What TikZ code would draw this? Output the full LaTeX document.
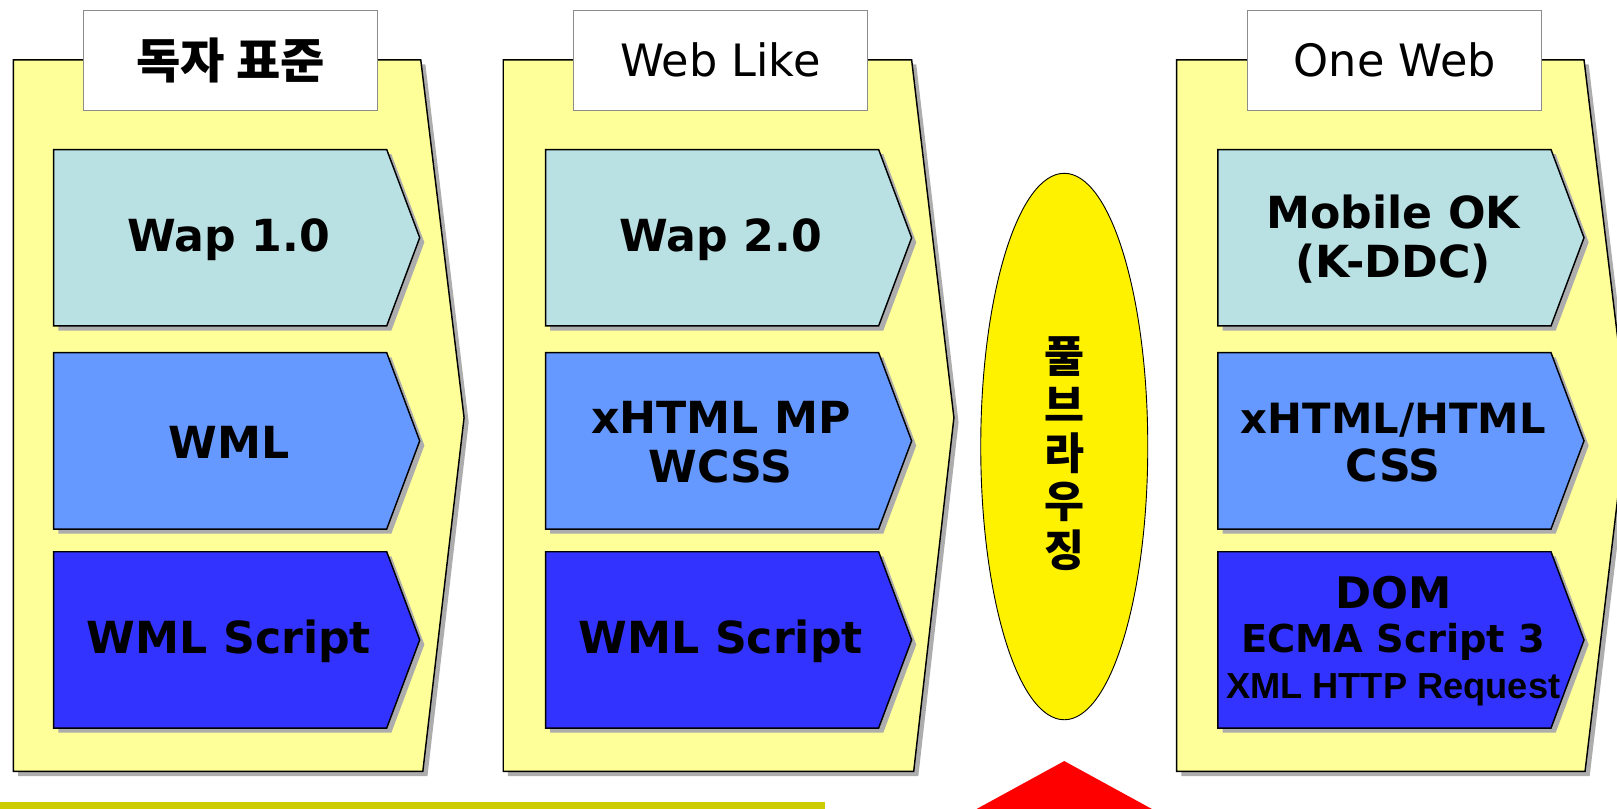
\documentclass[tikz,border=0pt]{standalone}
\usepackage{fontspec}
\setmainfont{DejaVu Sans}
\newfontfamily\kr{Noto Sans CJK KR}
\newfontfamily\arialfont{Liberation Sans}
\usetikzlibrary{shapes.geometric,shadows}

\definecolor{panelyellow}{HTML}{FFFF99}
\definecolor{paleblue}{HTML}{B9E0E3}
\definecolor{midblue}{HTML}{6699FF}
\definecolor{deepblue}{HTML}{3333FF}
\definecolor{barolive}{HTML}{CCCC00}

\tikzset{
  shadowed/.style={drop shadow={shadow xshift=0.09cm, shadow yshift=-0.09cm, opacity=1, fill=black!32}},
  panel/.style={draw=black, line width=0.8pt, fill=panelyellow, shadowed},
  chev/.style={draw=black, line width=0.8pt, shadowed},
  headbox/.style={draw=black!45, fill=white, line width=0.6pt, minimum width=5.7cm, minimum height=1.94cm},
  lbl/.style={font=\bfseries\fontsize{24.4}{26.8}\selectfont, align=center},
}

% chevron: name, left x, top y, fill, label
\newcommand{\chevron}[5]{%
  \path[chev, fill=#4] (#2,#3) -- ++(323,0) -- ++(32,85.5) -- ++(-32,85.5) -- ++(-323,0) -- cycle;
  \node[lbl] (#1) at ([shift={(170,87)}]#2,#3) {#5};
}

\begin{document}
\begin{tikzpicture}[x=0.02cm, y=-0.02cm]
\useasboundingbox (0,0) rectangle (1568,784);
\clip (0,0) rectangle (1568,784);

% three panels
\path[panel] (13,58) -- (408,58) -- (450,405) -- (410,748) -- (13,748) -- cycle;
\path[panel] (488,58) -- (884,58) -- (925,405) -- (886,748) -- (488,748) -- cycle;
\path[panel] (1141,58) -- (1536,58) -- (1578,405) -- (1537,748) -- (1141,748) -- cycle;

\node[headbox, font=\kr\bfseries\fontsize{26.6}{30}\selectfont] (hdown) at (223.5,58.5) {독자 표준};
\node[headbox, font=\fontsize{24.6}{28}\selectfont] (hlike) at (698.5,58.5) {Web Like};
\node[headbox, font=\fontsize{24.6}{28}\selectfont] (hone) at (1352.5,58.5) {One Web};

% own standard
\chevron{wapa}{52}{145}{paleblue}{Wap 1.0}
\chevron{wmla}{52}{342}{midblue}{WML}
\chevron{wmlsa}{52}{535}{deepblue}{WML Script}

% web like
\chevron{wapb}{529}{145}{paleblue}{Wap 2.0}
\chevron{xhtmlmp}{529}{342}{midblue}{xHTML MP\\WCSS}
\chevron{wmlsb}{529}{535}{deepblue}{WML Script}

% one web
\chevron{mobok}{1181}{145}{paleblue}{\fontsize{24.4}{29.5}\selectfont Mobile OK\\(K-DDC)}
\chevron{xhtml}{1181}{342}{midblue}{\fontsize{23}{26}\selectfont xHTML/HTML\\CSS}
\chevron{dom}{1181}{535}{deepblue}{\fontsize{24}{24.5}\selectfont DOM\\[-3pt]{\fontsize{21.2}{25}\selectfont ECMA Script 3}\\[-1pt]{\arialfont\fontsize{20}{25}\selectfont XML HTTP Request}}

% full browsing
\node[ellipse, draw=black, line width=0.5pt, fill=yellow, minimum width=3.24cm, minimum height=10.6cm] (brw) at (1032,433) {};
\node[font=\kr\bfseries\fontsize{24}{26.7}\selectfont, align=center] (brwtxt) at (1032,440) {풀\\브\\라\\우\\징};

\path[fill=red] (1032,738) -- (1182,820) -- (882,820) -- cycle;
\path[fill=barolive] (0,778) rectangle (800,800);
\end{tikzpicture}
\end{document}
